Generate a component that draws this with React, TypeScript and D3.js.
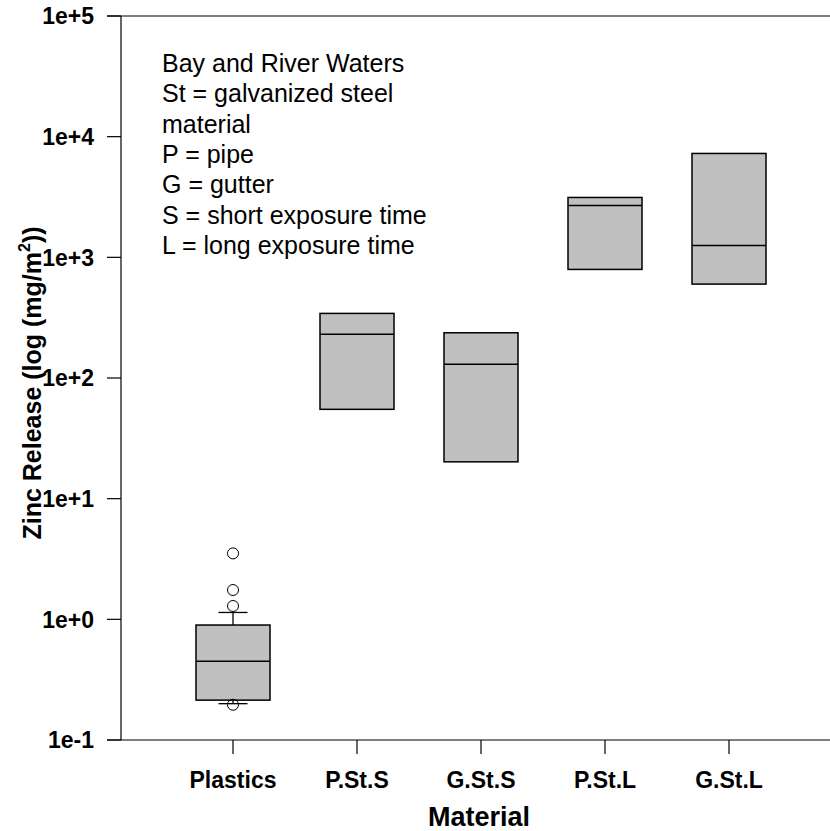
import * as d3 from "d3";

const W = 830;
const H = 831;

// category labels and box stats
const categories = ["Plastics", "P.St.S", "G.St.S", "P.St.L", "G.St.L"];
const q1 = [0.214, 55, 20.2, 794, 600];
const medians = [0.45, 230, 130, 2690, 1256];
const q3 = [0.897, 343, 237, 3135, 7260];
// whiskers only for Plastics (others have too few points)
const whiskerLow = [0.2, null, null, null, null];
const whiskerHigh = [1.14, null, null, null, null];
const outliers = [[3.52, 1.75, 1.29, 0.196], [], [], [], []];

const yTicks = [0.1, 1, 10, 100, 1000, 10000, 100000];
const yTickLabels = ["1e-1", "1e+0", "1e+1", "1e+2", "1e+3", "1e+4", "1e+5"];

const legendLines = [
  "Bay and River Waters",
  "St = galvanized steel",
  "material",
  "P = pipe",
  "G = gutter",
  "S = short exposure time",
  "L = long exposure time",
];

const FONT = "'Liberation Sans', Arial, Helvetica, sans-serif";
const AXIS_X = 121;
const TOP = 16;
const BOTTOM = 740;

const App = () => {
  const yScale = d3.scaleLog().domain([0.1, 1e5]).range([BOTTOM, TOP]);
  const xScale = d3.scaleLinear().domain([0, 4]).range([233, 729]);
  const boxW = 74;
  const capW = 29;

  const boxes = categories.map((c, i) => {
    const cx = xScale(i);
    const yTop = yScale(q3[i]);
    const yBot = yScale(q1[i]);
    return (
      <g key={c}>
        {whiskerHigh[i] != null && (
          <g stroke="#000" strokeWidth={1.3}>
            <line x1={cx} x2={cx} y1={yTop} y2={yScale(whiskerHigh[i] as number)} />
            <line x1={cx - capW / 2} x2={cx + capW / 2} y1={yScale(whiskerHigh[i] as number)} y2={yScale(whiskerHigh[i] as number)} />
          </g>
        )}
        {whiskerLow[i] != null && (
          <g stroke="#000" strokeWidth={1.3}>
            <line x1={cx} x2={cx} y1={yBot} y2={yScale(whiskerLow[i] as number)} />
            <line x1={cx - capW / 2} x2={cx + capW / 2} y1={yScale(whiskerLow[i] as number)} y2={yScale(whiskerLow[i] as number)} />
          </g>
        )}
        <rect
          x={cx - boxW / 2}
          y={yTop}
          width={boxW}
          height={yBot - yTop}
          fill="#c0c0c0"
          stroke="#000"
          strokeWidth={1.5}
        />
        <line x1={cx - boxW / 2} x2={cx + boxW / 2} y1={yScale(medians[i])} y2={yScale(medians[i])} stroke="#000" strokeWidth={1.5} />
        {outliers[i].map((v, j) => (
          <circle key={j} cx={cx} cy={yScale(v)} r={5.5} fill="none" stroke="#000" strokeWidth={1} />
        ))}
      </g>
    );
  });

  return (
    <svg width={W} height={H} style={{ position: "absolute", left: 0, top: 0, background: "#fff" }} fontFamily={FONT}>
      {/* frame lines */}
      <line x1={AXIS_X} x2={AXIS_X} y1={TOP} y2={BOTTOM} stroke="#000" strokeWidth={1.2} />
      <line x1={107} x2={W} y1={TOP} y2={TOP} stroke="#000" strokeWidth={1.2} />
      <line x1={107} x2={W} y1={BOTTOM} y2={BOTTOM} stroke="#000" strokeWidth={1.2} />

      {/* y ticks */}
      {yTicks.map((t, i) => (
        <g key={t}>
          <line x1={107} x2={AXIS_X} y1={yScale(t)} y2={yScale(t)} stroke="#000" strokeWidth={1.2} />
          <text x={94} y={yScale(t)} dy="0.36em" textAnchor="end" fontSize={23} fontWeight="bold">
            {yTickLabels[i]}
          </text>
        </g>
      ))}

      {/* x ticks */}
      {categories.map((c, i) => (
        <g key={c}>
          <line x1={xScale(i)} x2={xScale(i)} y1={BOTTOM} y2={BOTTOM + 14} stroke="#000" strokeWidth={1.2} />
          <text x={xScale(i)} y={788} textAnchor="middle" fontSize={23} fontWeight="bold">
            {c}
          </text>
        </g>
      ))}

      {boxes}

      {/* legend text */}
      {legendLines.map((l, i) => (
        <text key={i} x={162} y={72 + i * 30.3} fontSize={25}>
          {l}
        </text>
      ))}

      {/* axis titles */}
      <text x={479} y={826} textAnchor="middle" fontSize={27} fontWeight="bold">
        Material
      </text>
      <text
        transform={`translate(41,383) rotate(-90)`}
        textAnchor="middle"
        fontSize={25}
        fontWeight="bold"
      >
        Zinc Release (log (mg/m<tspan dy={-11} fontSize={16}>2</tspan><tspan dy={11}>))</tspan>
      </text>
    </svg>
  );
};

export default App;
